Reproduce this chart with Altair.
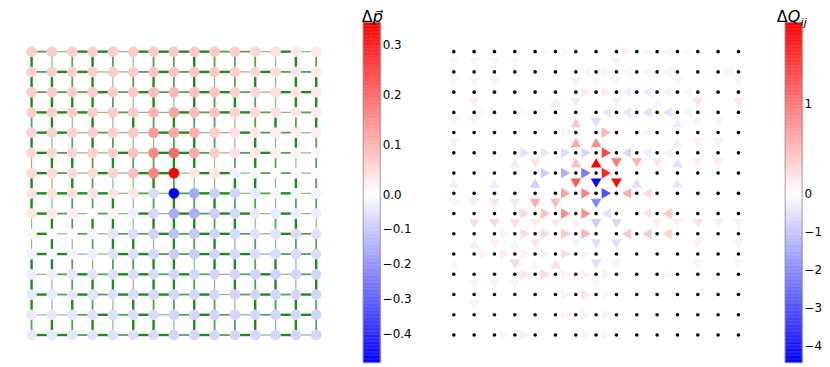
import altair as alt
import numpy as np
import pandas as pd

N = 15

# Δp per node: rows top -> bottom, columns left -> right
dp_rows = [
    [.068, .068, .068, .068, .068, .070, .075, .075, .075, .075, .068, .055, .040, .030, .028],
    [.068, .068, .068, .068, .068, .070, .080, .080, .080, .075, .068, .055, .045, .035, .030],
    [.068, .068, .068, .068, .068, .072, .090, .100, .085, .080, .065, .055, .045, .035, .030],
    [.065, .065, .065, .068, .068, .075, .100, .120, .090, .080, .060, .050, .040, .035, .030],
    [.060, .060, .062, .065, .065, .075, .140, .120, .110, .070, .040, .030, .025, .022, .020],
    [.055, .055, .055, .060, .065, .085, .160, .200, .115, .068, .040, .027, .020, .015, .012],
    [.050, .050, .050, .050, .060, .090, .170, .345, .035, .035, -.020, -.015, -.010, -.008, -.005],
    [.040, .040, .040, .040, .040, .035, -.070, -.485, -.170, -.095, -.086, -.040, -.020, -.020, -.020],
    [.035, .035, .027, .000, .014, -.030, -.080, -.160, -.155, -.095, -.076, -.040, -.040, -.030, -.030],
    [.014, .000, .000, -.020, -.050, -.067, -.086, -.120, -.105, -.086, -.076, -.057, -.057, -.067, -.057],
    [-.020, -.015, -.020, -.030, -.057, -.067, -.076, -.095, -.095, -.086, -.076, -.067, -.067, -.067, -.067],
    [-.035, -.035, -.045, -.055, -.060, -.065, -.070, -.080, -.080, -.080, -.080, -.080, -.080, -.080, -.080],
    [-.040, -.040, -.045, -.055, -.060, -.065, -.070, -.080, -.080, -.080, -.080, -.080, -.080, -.080, -.080],
    [-.040, -.040, -.050, -.055, -.060, -.065, -.070, -.080, -.080, -.080, -.080, -.080, -.080, -.080, -.080],
    [-.040, -.040, -.050, -.055, -.060, -.065, -.070, -.080, -.080, -.080, -.080, -.080, -.080, -.080, -.080],
]

# conductance class of each edge (1 thin, 2 medium, 3 thick)
H_w = [  # horizontal edges, per row (top -> bottom), 14 per row
    "21331333322131", "23311232331322", "22232322332133", "33312113233212",
    "33121133113221", "32113133212321", "32131331331221", "33331212331231",
    "32121313233131", "31212232332132", "33113322333122", "12323323212312",
    "32323332312323", "11232312321233", "33232332323131",
]
V_w = [  # vertical edges between row r and r+1, 15 per row
    "312321223222132", "332312323123133", "333321313232133", "231313232212323",
    "312321123213132", "133232233123212", "313211321133132", "312231232322122",
    "132331333231231", "131233132312122", "332122331332313", "312331332132313",
    "313213223213232", "232313313223132",
]

# flow-change markers: (edge kind, col, row, direction, ΔQ)
tri = [
    ("v", 7, 5, "U", 1.90), ("h", 7, 5, "R", 1.39), ("v", 8, 5, "D", 1.00), ("v", 9, 5, "D", 0.56),
    ("h", 7, 6, "R", 1.61), ("v", 8, 6, "D", 1.85), ("v", 7, 6, "D", -4.44), ("h", 6, 6, "R", -2.34),
    ("h", 7, 7, "R", -3.10), ("v", 7, 7, "D", -2.10), ("h", 8, 7, "L", 0.64), ("h", 6, 7, "R", 0.94),
    ("h", 6, 8, "R", 0.86), ("h", 7, 8, "L", -0.52), ("h", 10, 8, "L", 0.41), ("h", 9, 8, "L", 0.20),
    ("h", 8, 5, "L", -0.69), ("h", 9, 5, "L", -0.30), ("h", 10, 5, "L", -0.25),
    ("v", 7, 4, "U", 0.86), ("h", 7, 4, "R", 0.56), ("v", 7, 3, "D", -0.61),
    ("v", 11, 5, "U", -0.52), ("v", 11, 4, "U", -0.30), ("v", 11, 3, "U", -0.30),
    ("v", 10, 5, "D", 0.20), ("v", 12, 5, "D", 0.15), ("v", 13, 5, "D", 0.15),
    ("v", 9, 6, "U", -0.52), ("v", 11, 6, "U", -0.43), ("h", 9, 7, "L", 0.26),
    ("v", 6, 3, "U", 0.41), ("v", 6, 4, "U", 0.64),
    ("h", 3, 5, "R", -0.52), ("h", 4, 5, "R", -0.43), ("h", 5, 5, "R", -0.61), ("h", 6, 5, "R", -0.69),
    ("v", 4, 5, "D", 0.22), ("v", 6, 5, "U", 0.49), ("v", 3, 5, "U", -0.30),
    ("h", 4, 6, "R", -0.87), ("h", 5, 6, "R", -1.39),
    ("v", 0, 6, "U", -0.30), ("v", 2, 6, "U", -0.30), ("v", 4, 6, "U", -0.87), ("v", 6, 6, "D", 1.24),
    ("h", 5, 7, "R", 0.71),
    ("v", 0, 7, "D", 0.10), ("v", 1, 7, "D", 0.15), ("v", 2, 7, "D", 0.20), ("v", 3, 7, "D", 0.20),
    ("v", 4, 7, "D", 0.64), ("v", 5, 7, "D", 0.49),
    ("h", 3, 8, "R", 0.30), ("h", 4, 8, "R", 0.49), ("h", 5, 8, "R", 0.86),
    ("v", 1, 8, "D", 0.26), ("v", 2, 8, "D", 0.30), ("v", 3, 8, "D", 0.26), ("v", 4, 8, "D", 0.15),
    ("v", 5, 8, "D", 0.15), ("v", 6, 8, "D", 0.12), ("v", 7, 8, "D", -0.87), ("v", 8, 8, "D", -0.69),
    ("v", 10, 8, "D", 0.12), ("v", 11, 8, "D", 0.12), ("v", 12, 8, "D", 0.22), ("v", 13, 8, "D", 0.12),
    ("v", 14, 8, "D", 0.12),
    ("h", 2, 9, "R", 0.12), ("h", 3, 9, "R", 0.26), ("h", 4, 9, "R", 0.30), ("h", 5, 9, "R", 0.41),
    ("h", 6, 9, "R", 0.56), ("h", 8, 9, "L", 0.41), ("h", 9, 9, "L", 0.41), ("h", 10, 9, "L", 0.34),
    ("v", 1, 9, "U", -0.26), ("v", 2, 9, "D", 0.12), ("v", 3, 9, "U", -0.20), ("v", 4, 9, "D", 0.22),
    ("v", 6, 9, "D", -0.20), ("v", 7, 9, "D", -0.61), ("v", 8, 9, "D", -0.52), ("v", 12, 9, "D", 0.12),
    ("v", 14, 9, "D", 0.10),
    ("h", 1, 10, "R", 0.10), ("h", 2, 10, "R", 0.15), ("h", 3, 10, "R", 0.12), ("h", 4, 10, "R", 0.12),
    ("h", 5, 10, "R", 0.26), ("h", 6, 10, "R", 0.12),
    ("v", 3, 10, "D", 0.30), ("v", 5, 10, "U", 0.22), ("v", 4, 10, "U", -0.15), ("v", 0, 10, "U", -0.15),
    ("v", 7, 10, "D", -0.61), ("v", 8, 10, "D", -0.20), ("v", 12, 10, "D", 0.12), ("v", 14, 10, "D", 0.10),
    ("h", 3, 11, "R", 0.19), ("h", 4, 11, "R", 0.30), ("h", 5, 11, "R", 0.12), ("h", 6, 11, "R", 0.12),
    ("h", 7, 11, "R", 0.10), ("h", 10, 11, "R", -0.15),
    ("v", 1, 11, "D", 0.10), ("v", 2, 11, "D", 0.12), ("v", 3, 11, "D", 0.10), ("v", 7, 11, "D", -0.20),
    ("h", 5, 12, "R", 0.12), ("h", 6, 12, "R", 0.22), ("h", 7, 12, "R", 0.10), ("v", 1, 12, "D", 0.12),
    ("h", 5, 13, "R", 0.10), ("h", 6, 13, "R", 0.12), ("h", 7, 13, "R", 0.10),
    ("h", 2, 14, "R", 0.10), ("h", 3, 14, "R", 0.12), ("h", 6, 14, "R", 0.10), ("h", 7, 14, "R", 0.10),
    ("h", 4, 0, "R", -0.12), ("h", 5, 0, "R", -0.10), ("h", 8, 0, "R", 0.15), ("h", 9, 0, "L", -0.15),
    ("h", 10, 0, "L", -0.15), ("h", 11, 0, "L", -0.10),
    ("v", 0, 0, "D", 0.08), ("v", 1, 0, "D", 0.10), ("v", 2, 0, "D", 0.10), ("v", 3, 0, "D", 0.07),
    ("v", 8, 0, "D", -0.20),
    ("v", 0, 1, "D", 0.08), ("v", 1, 1, "D", 0.10), ("v", 2, 1, "D", 0.10), ("v", 6, 1, "D", -0.26),
    ("v", 7, 1, "D", -0.20), ("v", 8, 1, "D", -0.20), ("v", 11, 1, "D", 0.10), ("v", 14, 1, "D", 0.10),
    ("h", 6, 1, "L", 0.11), ("h", 7, 1, "R", 0.12), ("h", 8, 1, "L", -0.20), ("h", 9, 1, "L", -0.20),
    ("h", 10, 1, "L", -0.15), ("h", 13, 1, "L", 0.10),
    ("h", 6, 2, "R", 0.15), ("h", 7, 2, "R", 0.15), ("h", 8, 2, "L", -0.26), ("h", 9, 2, "L", -0.35),
    ("h", 10, 2, "L", -0.20), ("h", 11, 2, "L", -0.15),
    ("v", 1, 2, "D", 0.15), ("v", 5, 2, "U", 0.15), ("v", 6, 2, "D", -0.35), ("v", 8, 2, "D", -0.26),
    ("v", 10, 2, "U", -0.17), ("v", 12, 2, "D", 0.22), ("v", 14, 2, "D", 0.19),
    ("h", 7, 3, "L", -0.43), ("h", 8, 3, "L", -0.43), ("h", 9, 3, "L", -0.52), ("h", 10, 3, "L", -0.43),
    ("h", 11, 3, "L", -0.20), ("h", 3, 3, "R", -0.12), ("h", 1, 3, "R", -0.10),
    ("v", 0, 3, "D", 0.10), ("v", 1, 3, "D", 0.10), ("v", 12, 3, "D", 0.12), ("v", 13, 3, "D", 0.10),
    ("v", 0, 4, "D", 0.10), ("v", 12, 4, "D", 0.12), ("v", 13, 4, "D", 0.12),
    ("h", 5, 4, "R", -0.20), ("h", 9, 4, "L", -0.20),
]

DP_MIN, DP_MAX = -0.485, 0.345
DQ_MIN, DQ_MAX = -4.44, 1.90
dp_ticks = [0.3, 0.2, 0.1, 0.0, -0.1, -0.2, -0.3, -0.4]
dq_ticks = [1, 0, -1, -2, -3, -4]

FONT = "DejaVu Sans"
BWR = ["#0000ff", "#ffffff", "#ff0000"]
H = 358

# ---------------- data frames ----------------
nodes = pd.DataFrame([{"c": c, "r": r, "dp": dp_rows[r][c]} for r in range(N) for c in range(N)])
edges = []
for r in range(N):
    for c in range(N - 1):
        edges.append({"x": c, "x2": c + 1, "y": r, "y2": r, "w": int(H_w[r][c])})
for r in range(N - 1):
    for c in range(N):
        edges.append({"x": c, "x2": c, "y": r, "y2": r + 1, "w": int(V_w[r][c])})
edges = pd.DataFrame(edges).sort_values("w")

tri_df = pd.DataFrame(tri, columns=["k", "c", "r", "dir", "dq"])
tri_df["x"] = tri_df.c + np.where(tri_df.k == "h", 0.5, 0.0)
tri_df["y"] = tri_df.r + np.where(tri_df.k == "v", 0.5, 0.0)
tri_df["a"] = tri_df.dq.abs()
tri_df = tri_df.sort_values("a")

dots = nodes[["c", "r"]]

ys_panel = alt.Scale(domain=[-2.114, 15.487], reverse=True, nice=False, zero=False)
xs_left = alt.Scale(domain=[-1.160, 16.314], nice=False, zero=False)
xs_right = alt.Scale(domain=[-3.622, 16.299], nice=False, zero=False)

dp_color = alt.Scale(domain=[DP_MIN, 0, DP_MAX], range=BWR, interpolate="rgb")
dq_color = alt.Scale(domain=[DQ_MIN, 0, DQ_MAX], range=BWR, interpolate="rgb")

# ---------------- left panel ----------------
edge_layer = alt.Chart(edges).mark_rule(color="#008000").encode(
    x=alt.X("x:Q", scale=xs_left, axis=None),
    x2="x2:Q",
    y=alt.Y("y:Q", scale=ys_panel, axis=None),
    y2="y2:Q",
    strokeWidth=alt.StrokeWidth("w:O", scale=alt.Scale(domain=[1, 2, 3], range=[1.2, 2.4, 3.6]), legend=None),
    opacity=alt.Opacity("w:O", scale=alt.Scale(domain=[1, 2, 3], range=[0.5, 0.9, 1.0]), legend=None),
)
node_layer = alt.Chart(nodes).mark_circle(size=115, opacity=1).encode(
    x=alt.X("c:Q", scale=xs_left, axis=None),
    y=alt.Y("r:Q", scale=ys_panel, axis=None),
    color=alt.Color("dp:Q", scale=dp_color, legend=None),
)
left = alt.layer(edge_layer, node_layer).properties(width=357, height=H)

# ---------------- right panel ----------------
dot_layer = alt.Chart(dots).mark_circle(size=13, color="black", opacity=1).encode(
    x=alt.X("c:Q", scale=xs_right, axis=None),
    y=alt.Y("r:Q", scale=ys_panel, axis=None),
)
tri_layer = alt.Chart(tri_df).mark_point(filled=True, size=115, opacity=1, strokeWidth=0).encode(
    x=alt.X("x:Q", scale=xs_right, axis=None),
    y=alt.Y("y:Q", scale=ys_panel, axis=None),
    shape=alt.Shape("dir:N", scale=alt.Scale(domain=["R", "L", "U", "D"],
                                             range=["triangle-right", "triangle-left", "triangle-up", "triangle-down"]),
                    legend=None),
    color=alt.Color("dq:Q", scale=dq_color, legend=None),
)
right = alt.layer(tri_layer, dot_layer).properties(width=407, height=H)


# ---------------- colorbars ----------------
def colorbar(vmin, vmax, zero_px, cscale, ticks, fmt, title_layers):
    a = np.concatenate([np.linspace(vmin, 0, 121), np.linspace(0, vmax, 121)[1:]])
    df = pd.DataFrame({"v0": a[:-1], "v1": a[1:]})
    df["vm"] = (df.v0 + df.v1) / 2
    ys = alt.Scale(domain=[vmin, 0, vmax], range=[355.5, zero_px, 13.7], nice=False, zero=False)
    bar = alt.Chart(df).mark_rect(strokeWidth=0.5).encode(
        x=alt.value(0), x2=alt.value(17),
        y=alt.Y("v0:Q", scale=ys, axis=alt.Axis(orient="right", values=ticks, format=fmt, ticks=False,
                                                 domain=False, grid=False, labelFontSize=12, labelFont=FONT,
                                                 labelColor="black", labelPadding=2, title=None,
                                                 labelOverlap=False)),
        y2="v1:Q",
        color=alt.Color("vm:Q", scale=cscale, legend=None),
        stroke=alt.Stroke("vm:Q", scale=cscale, legend=None),
    )
    frame = alt.Chart(pd.DataFrame({"k": [0]})).mark_rect(filled=False, stroke="#888888", strokeWidth=0.8).encode(
        x=alt.value(0), x2=alt.value(17), y=alt.datum(vmin), y2=alt.datum(vmax)
    )
    return alt.layer(bar, frame, *title_layers).properties(width=17, height=H)


one = pd.DataFrame({"k": [0]})
dp_title = [
    alt.Chart(one).mark_text(text="Δ", font=FONT, fontSize=16, align="right", baseline="alphabetic",
                             color="black").encode(x=alt.value(9.5), y=alt.value(13)),
    alt.Chart(one).mark_text(text="p\u20d7", font=FONT, fontSize=16, fontStyle="italic", align="left",
                             baseline="alphabetic", color="black").encode(x=alt.value(9.5), y=alt.value(13)),
]
dq_title = [
    alt.Chart(one).mark_text(text="Δ", font=FONT, fontSize=16, align="right", baseline="alphabetic",
                             color="black").encode(x=alt.value(2.5), y=alt.value(13)),
    alt.Chart(one).mark_text(text="Q", font=FONT, fontSize=16, fontStyle="italic", align="left",
                             baseline="alphabetic", color="black").encode(x=alt.value(2.5), y=alt.value(13)),
    alt.Chart(one).mark_text(text="ij", font=FONT, fontSize=11, fontStyle="italic", align="left",
                             baseline="alphabetic", color="black").encode(x=alt.value(15.5), y=alt.value(17)),
]

cb1 = colorbar(DP_MIN, DP_MAX, 186.3, dp_color, dp_ticks, ".1f", dp_title)
cb2 = colorbar(DQ_MIN, DQ_MAX, 186.0, dq_color, dq_ticks, "d", dq_title)

chart = alt.hconcat(left, cb1, right, cb2, spacing=0, bounds="flush").resolve_scale(
    color="independent", stroke="independent", x="independent", y="independent",
    strokeWidth="independent", opacity="independent", shape="independent",
).configure_view(stroke=None).properties(padding=0)

chart.save("out.html", embed_options={"renderer": "svg", "actions": False})
